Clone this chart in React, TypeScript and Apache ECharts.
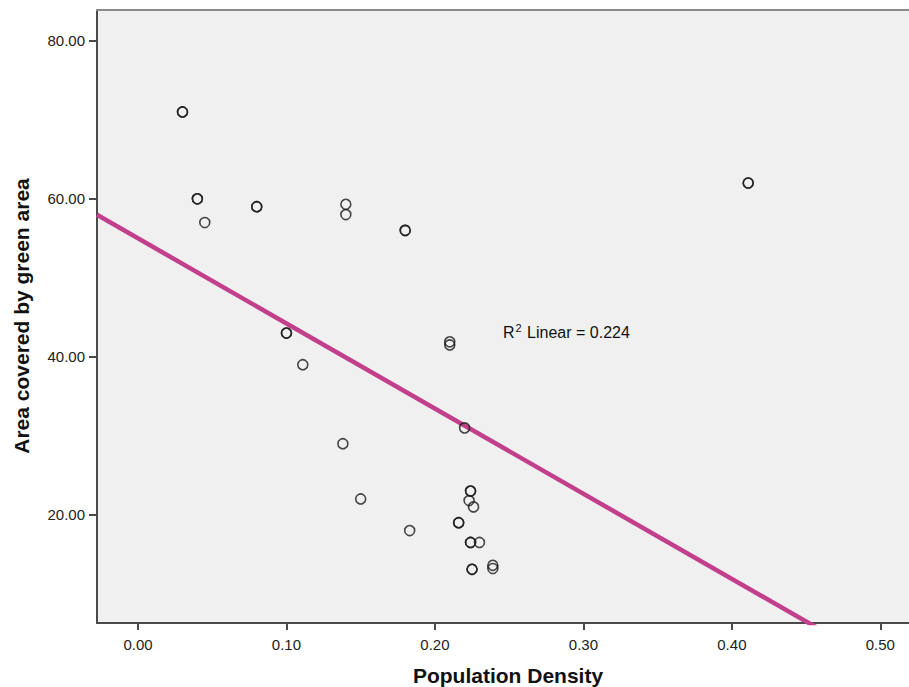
import React, { useEffect, useRef } from "react";
import * as echarts from "echarts";

// Scatter data (duplicates = overlapping cases)
const densityX = [
  0.030, 0.030, 0.040, 0.040, 0.045, 0.080, 0.080, 0.140, 0.140, 0.180, 0.180,
  0.100, 0.100, 0.111, 0.138, 0.150, 0.210, 0.210, 0.220, 0.224, 0.224, 0.223,
  0.226, 0.216, 0.216, 0.183, 0.224, 0.224, 0.230, 0.225, 0.225, 0.239, 0.239,
  0.411, 0.411,
];
const greenY = [
  71.0, 71.0, 60.0, 60.0, 57.0, 59.0, 59.0, 59.3, 58.0, 56.0, 56.0,
  43.0, 43.0, 39.0, 29.0, 22.0, 41.9, 41.5, 31.0, 23.0, 23.0, 21.8,
  21.0, 19.0, 19.0, 18.0, 16.5, 16.5, 16.5, 13.1, 13.1, 13.6, 13.2,
  62.0, 62.0,
];

const xTicks = [0, 0.1, 0.2, 0.3, 0.4, 0.5];
const yTicks = [20, 40, 60, 80];

// Linear fit: y = intercept + slope * x
const fitIntercept = 55.0;
const fitSlope = -107.8;
const rSquared = "0.224";

const X_MIN = -0.0276;
const X_MAX = 0.5193;
const Y_MIN = 6.3;
const Y_MAX = 83.9;

export default function App() {
  const ref = useRef<HTMLDivElement>(null);

  useEffect(() => {
    if (!ref.current) return;
    const chart = echarts.init(ref.current, undefined, { renderer: "svg" });
    const points = densityX.map((x, i) => [x, greenY[i]]);
    const fitLine = [X_MIN, X_MAX].map((x) => [x, fitIntercept + fitSlope * x]);
    const font = "'Liberation Sans', Arial, sans-serif";

    chart.setOption({
      animation: false,
      backgroundColor: "#ffffff",
      grid: {
        left: 97,
        right: 0,
        top: 10,
        bottom: 64,
        show: true,
        backgroundColor: "#F0F0F0",
        borderWidth: 0,
      },
      xAxis: {
        type: "value",
        min: X_MIN,
        max: X_MAX,
        splitLine: { show: false },
        axisLine: { show: true, onZero: false, lineStyle: { color: "#4a4a4a", width: 2 } },
        axisTick: {
          show: true,
          length: 7,
          customValues: xTicks,
          lineStyle: { color: "#4a4a4a", width: 2 },
        },
        axisLabel: {
          customValues: xTicks,
          margin: 14,
          color: "#222",
          fontSize: 15,
          fontFamily: font,
          formatter: (v: number) => v.toFixed(2),
        },
      },
      yAxis: {
        type: "value",
        min: Y_MIN,
        max: Y_MAX,
        splitLine: { show: false },
        axisLine: { show: true, onZero: false, lineStyle: { color: "#4a4a4a", width: 2 } },
        axisTick: {
          show: true,
          length: 8,
          customValues: yTicks,
          lineStyle: { color: "#4a4a4a", width: 2 },
        },
        axisLabel: {
          customValues: yTicks,
          margin: 12,
          color: "#222",
          fontSize: 15,
          fontFamily: font,
          formatter: (v: number) => v.toFixed(2),
        },
      },
      series: [
        {
          type: "line",
          data: fitLine,
          showSymbol: false,
          symbol: "none",
          clip: true,
          lineStyle: { color: "#C2408B", width: 4.5 },
          z: 2,
        },
        {
          type: "scatter",
          data: points,
          symbol: "circle",
          symbolSize: 10,
          itemStyle: { color: "rgba(0,0,0,0)", borderColor: "#1a1a1a", borderWidth: 1.6 },
          z: 3,
        },
      ],
      graphic: [
        {
          type: "line",
          shape: { x1: 96, y1: 10, x2: 909, y2: 10 },
          style: { stroke: "#8a8a8a", lineWidth: 2 },
          z: 10,
        },
        {
          type: "text",
          x: 508,
          y: 675,
          style: {
            text: "Population Density",
            font: `bold 21px ${font}`,
            fill: "#111",
            align: "center",
            verticalAlign: "middle",
          },
        },
        {
          type: "text",
          x: 21,
          y: 316,
          rotation: Math.PI / 2,
          style: {
            text: "Area covered by green area",
            font: `bold 21px ${font}`,
            fill: "#111",
            align: "center",
            verticalAlign: "middle",
          },
        },
        {
          type: "text",
          x: 503,
          y: 332,
          style: {
            text: `R{sup|2} Linear = ${rSquared}`,
            font: `16px ${font}`,
            fill: "#111",
            align: "left",
            verticalAlign: "middle",
            rich: {
              sup: { fontSize: 11, fontFamily: font, fill: "#111", padding: [0, 1, 9, 1] },
            },
          },
        },
      ],
    });

    return () => chart.dispose();
  }, []);

  return (
    <div
      ref={ref}
      style={{ position: "absolute", left: 0, top: 0, width: 909, height: 687 }}
    />
  );
}
